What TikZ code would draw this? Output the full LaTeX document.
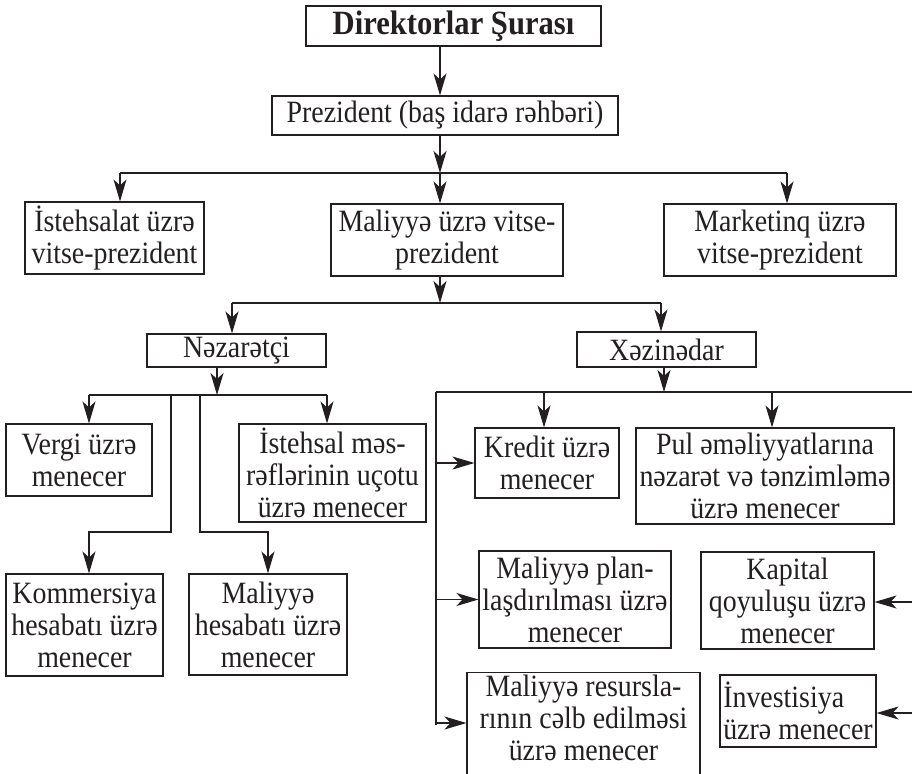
\documentclass[tikz,border=0pt]{standalone}
\usepackage{fontspec}
\setmainfont[FakeStretch=0.9]{Liberation Serif}
\usetikzlibrary{arrows.meta}
\definecolor{ink}{RGB}{35,31,32}
\begin{document}
\begin{tikzpicture}[x=1pt,y=-1pt,line width=1.1pt,draw=ink,text=ink,
  box/.style={draw=ink,line width=1.1pt,inner sep=1pt,align=center,font=\fontsize{31}{32}\selectfont},
  arr/.style={-{Stealth[length=22pt,width=13pt,inset=6pt]},draw=ink}]
\clip (0,0) rectangle (912,773);
\useasboundingbox (0,0) rectangle (912,773);
% nodes
\node[box,minimum width=295pt,minimum height=40pt,font=\bfseries\fontsize{34}{36}\selectfont] (dir) at (453.5,26) {Direktorlar Şurası};
\node[box,minimum width=346pt,minimum height=39pt] (prez) at (445,115.5) {Prezident (baş idarə rəhbəri)};
\node[box,minimum width=179pt,minimum height=72pt] (ist) at (114.5,238) {İstehsalat üzrə\\vitse-prezident};
\node[box,minimum width=232pt,minimum height=72pt] (mal) at (447,240) {Maliyyə üzrə vitse-\\prezident};
\node[box,minimum width=232pt,minimum height=72pt] (mkt) at (780,240) {Marketinq üzrə\\vitse-prezident};
\node[box,minimum width=179pt,minimum height=33pt] (nez) at (236.5,350.5) {Nəzarətçi};
\node[box,minimum width=179pt,minimum height=35pt] (xez) at (666.5,349.5) {Xəzinədar};
\node[box,minimum width=146pt,minimum height=72pt] (vergi) at (79,460) {Vergi üzrə\\menecer};
\node[box,minimum width=187pt,minimum height=98pt] (istm) at (332.5,473) {İstehsal məs-\\rəflərinin uçotu\\üzrə menecer};
\node[box,minimum width=157pt,minimum height=102pt] (kom) at (84.5,625) {Kommersiya\\hesabatı üzrə\\menecer};
\node[box,minimum width=158pt,minimum height=101pt] (malh) at (268,624.5) {Maliyyə\\hesabatı üzrə\\menecer};
\node[box,minimum width=144pt,minimum height=70pt] (kred) at (547,463) {Kredit üzrə\\menecer};
\node[box,minimum width=258pt,minimum height=96pt] (pul) at (765,476) {Pul əməliyyatlarına\\nəzarət və tənzimləmə\\üzrə menecer};
\node[box,minimum width=192pt,minimum height=97pt] (plan) at (575,599.5) {Maliyyə plan-\\laşdırılması üzrə\\menecer};
\node[box,minimum width=173pt,minimum height=97pt] (kap) at (787.5,600.5) {Kapital\\qoyuluşu üzrə\\menecer};
\node[box,minimum width=233pt,minimum height=140pt,anchor=north] (res) at (583.5,672) {};
\node[font=\fontsize{31}{32}\selectfont,align=center,anchor=north,inner sep=0pt] (rest) at (583.5,674) {Maliyyə resursla-\\rının cəlb edilməsi\\üzrə menecer};
\node[box,minimum width=156pt,minimum height=72pt,align=left] (inv) at (798,711) {İnvestisiya\\üzrə menecer};
% junction coordinates
\coordinate (j1) at (440,173);
\coordinate (pl) at (120,173);
\coordinate (pr) at (787,173);
\coordinate (j2) at (440,303);
\coordinate (ml) at (232,303);
\coordinate (mr) at (661,303);
\coordinate (j3) at (217,395);
\coordinate (nl) at (89,395);
\coordinate (nr) at (327,395);
\coordinate (na) at (171,395);
\coordinate (nb) at (200,395);
\coordinate (na2) at (171,532);
\coordinate (na3) at (89,532);
\coordinate (nb2) at (200,532);
\coordinate (nb3) at (268,532);
\coordinate (j4) at (664,392);
\coordinate (xl) at (436,392);
\coordinate (xr) at (912,392);
\coordinate (xa) at (544,392);
\coordinate (xb) at (772,392);
\coordinate (xbot) at (436,725);
\coordinate (kr) at (912,602);
\coordinate (ir) at (912,713);
% connectors
\draw[arr] (dir.south -| j1) -- (prez.north -| j1);
\draw[arr] (prez.south -| j1) -- (j1);
\draw (pl) -- (pr);
\draw[arr] (pl) -- (ist.north -| pl);
\draw[arr] (j1) -- (mal.north -| j1);
\draw[arr] (pr) -- (mkt.north -| pr);
\draw[arr] (mal.south -| j2) -- (j2);
\draw (ml) -- (mr);
\draw[arr] (ml) -- (nez.north -| ml);
\draw[arr] (mr) -- (xez.north -| mr);
\draw[arr] (nez.south -| j3) -- (j3);
\draw (nl) -- (nr);
\draw[arr] (nl) -- (vergi.north -| nl);
\draw[arr] (nr) -- (istm.north -| nr);
\draw[arr] (na) -- (na2) -- (na3) -- (kom.north -| na3);
\draw[arr] (nb) -- (nb2) -- (nb3) -- (malh.north -| nb3);
\draw[arr] (xez.south -| j4) -- (j4);
\draw (xl) -- (xr);
\draw (xl) -- (xbot);
\draw[arr] (xa) -- (kred.north -| xa);
\draw[arr] (xb) -- (pul.north -| xb);
\draw[arr] (xl |- kred.west) -- (kred.west);
\draw[arr] (xl |- plan.west) -- (plan.west);
\draw[arr] (xl |- 0,723) -- (res.west |- 0,723);
\draw[arr] (kr) -- (kap.east |- kr);
\draw[arr] (ir) -- (inv.east |- ir);
\end{tikzpicture}
\end{document}
